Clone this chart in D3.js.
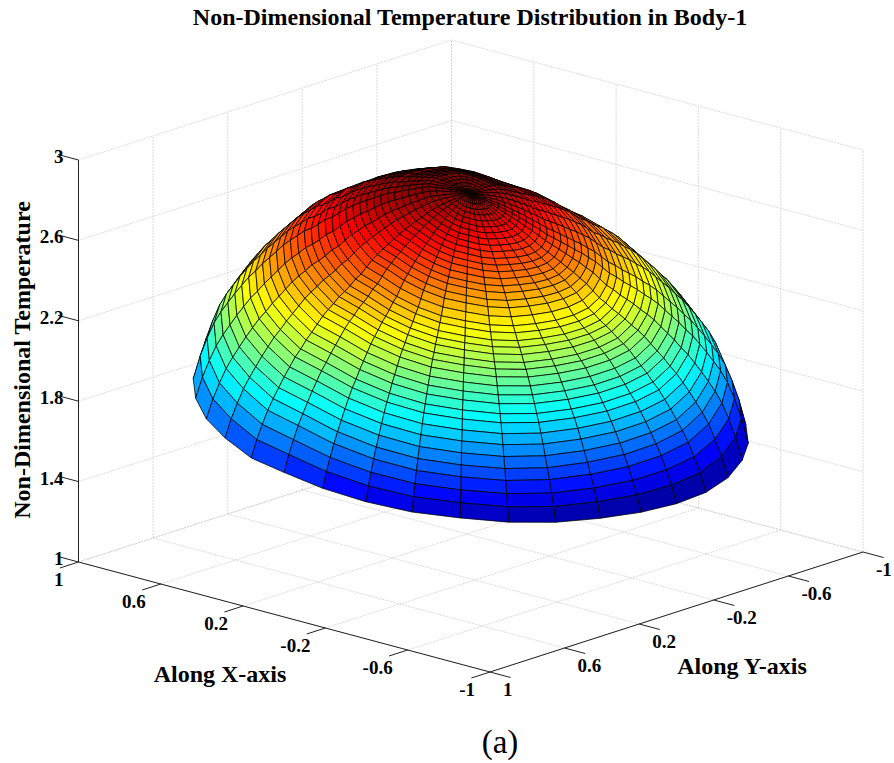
<!DOCTYPE html>
<html>
<head>
<meta charset="utf-8">
<script src="https://cdnjs.cloudflare.com/ajax/libs/d3/7.8.5/d3.min.js"></script>
<style>
    html, body { margin: 0; padding: 0; background: #fff; }
    svg { display: block; }
    text { font-family: "Liberation Serif", serif; fill: #000; }
    .tick { font-size: 19px; font-weight: bold; }
    .axisLabel { font-size: 24px; font-weight: bold; }
</style>
</head>
<body>
<script>
var title = "Non-Dimensional Temperature Distribution in Body-1";
var xLabel = "Along X-axis";
var yLabel = "Along Y-axis";
var zLabel = "Non-Dimensional Temperature";
var caption = "(a)";

var xyTicks = [1, 0.6, 0.2, -0.2, -0.6, -1];
var zTicks = [1, 1.4, 1.8, 2.2, 2.6, 3];

// mesh angles in degrees, one per meridian
var meridians = [0, 10, 20, 30, 40, 50, 60, 70, 80, 90, 100, 110, 120, 130, 140, 150, 160, 170,
    180, 190, 200, 210, 220, 230, 240, 250, 260, 270, 280, 290, 300, 310, 320, 330, 340, 350];
// ring radii, centre to rim
var ringRadius = [0, 0.025, 0.05, 0.075, 0.1, 0.125, 0.15, 0.175, 0.2, 0.225, 0.25, 0.275, 0.3, 0.325,
    0.35, 0.375, 0.4, 0.425, 0.45, 0.475, 0.5, 0.525, 0.55, 0.575, 0.6, 0.625, 0.65, 0.675, 0.7, 0.725,
    0.75, 0.775, 0.8, 0.825, 0.85, 0.875, 0.9, 0.925, 0.95, 0.975, 1];
// temperature at the pole and how far each ring falls below it
var poleTemp = 2.81;
var ringDrop = [0, 0.006, 0.0135, 0.021, 0.028, 0.0376, 0.0475, 0.06, 0.074, 0.089, 0.104, 0.121, 0.138, 0.158,
    0.18, 0.203, 0.224, 0.25, 0.274, 0.306, 0.338, 0.36, 0.39, 0.414, 0.437, 0.467, 0.492, 0.521, 0.556, 0.591,
    0.625, 0.665, 0.7, 0.744, 0.789, 0.838, 0.888, 0.937, 0.992, 1.046, 1.111];
// how much each ring leans, and the share of the lean each meridian gets
var ringLean = [0, 0.015, 0.03, 0.045, 0.06, 0.075, 0.09, 0.1, 0.11, 0.12, 0.13, 0.14, 0.15, 0.155,
    0.16, 0.165, 0.17, 0.175, 0.18, 0.185, 0.19, 0.195, 0.195, 0.195, 0.2, 0.2, 0.2, 0.2, 0.2, 0.2,
    0.2, 0.2, 0.2, 0.2, 0.2, 0.2, 0.2, 0.2, 0.2, 0.2, 0.2];
var meridianShare = [1, 1, 0.95, 0.9, 0.85, 0.72, 0.55, 0.4, 0.2, 0.1, -0.08, -0.25, -0.4, -0.5, -0.62, -0.7, -0.735, -0.775,
    -0.8, -0.8, -0.75, -0.65, -0.575, -0.47, -0.3, -0.1, 0.1, 0.25, 0.4, 0.5, 0.65, 0.8, 0.9, 1, 1, 1];
// the dome is fuller on its back and sides than along the front
var ringBulge = [0, 0, 0, 0, 0, 0, 0, 0, 0, 0, 0, 0, 0.006, 0.012,
    0.02, 0.028, 0.036, 0.044, 0.052, 0.06, 0.068, 0.076, 0.084, 0.09, 0.098, 0.105, 0.11, 0.115, 0.12, 0.125,
    0.13, 0.135, 0.14, 0.145, 0.15, 0.155, 0.16, 0.15, 0.12, 0.07, 0];
var meridianBulge = [1, 1, 0.9, 0.8, 0.7, 0.55, 0.45, 0.38, 0.3, 0.25, 0.15, 0.07, 0.02, 0, 0.02, 0.06, 0.12, 0.2,
    0.3, 0.4, 0.55, 0.7, 0.85, 0.85, 0.95, 1, 1, 0.95, 0.9, 0.8, 0.65, 0.5, 0.55, 0.7, 0.9, 1];

var jetStops = ["#000080", "#0000ff", "#00ffff", "#ffff00", "#ff0000", "#800000"];
var jetDomain = [1.53, 1.6925, 2.0175, 2.3425, 2.6675, 2.83];

var width = 894, height = 763;

// box projection, one scale per data axis
var xToSx = d3.scaleLinear().domain([-1, 1]).range([205.75, -205.75]);
var xToSy = d3.scaleLinear().domain([-1, 1]).range([55, -55]);
var yToSx = d3.scaleLinear().domain([-1, 1]).range([186.5, -186.5]);
var yToSy = d3.scaleLinear().domain([-1, 1]).range([-60, 60]);
var zToSy = d3.scaleLinear().domain([1, 3]).range([0, -402]);
var originX = 470.75, originY = 557;

function project(x, y, z) {
    return [originX + xToSx(x) + yToSx(y), originY + xToSy(x) + yToSy(y) + zToSy(z)];
}

// larger is closer to the camera
function depth(p) {
    return -37486 * p[0] + 41356 * p[1] + 22602 * p[2];
}

var color = d3.scaleLinear().domain(jetDomain).range(jetStops).clamp(true);

var svg = d3.select("body").append("svg").attr("width", width).attr("height", height);

function seg(g, a, b) {
    var p = project(a[0], a[1], a[2]);
    var q = project(b[0], b[1], b[2]);
    return g.append("line").attr("x1", p[0]).attr("y1", p[1]).attr("x2", q[0]).attr("y2", q[1]);
}

// grid on the floor and the two back walls
var grid = svg.append("g")
    .attr("fill", "none")
    .attr("stroke", "#d2d2d2")
    .attr("stroke-width", 0.8)
    .attr("stroke-dasharray", "2,1");
xyTicks.forEach(function (t) {
    seg(grid, [t, 1, 1], [t, -1, 1]);
    seg(grid, [1, t, 1], [-1, t, 1]);
    seg(grid, [1, t, 1], [1, t, 3]);
    seg(grid, [t, -1, 1], [t, -1, 3]);
});
zTicks.forEach(function (z) {
    seg(grid, [1, 1, z], [1, -1, z]);
    seg(grid, [1, -1, z], [-1, -1, z]);
});

// surface
function temp(i, j) {
    return poleTemp - ringDrop[i] + ringLean[i] * meridianShare[j] + ringBulge[i] * meridianBulge[j];
}

function vertex(i, j) {
    var a = meridians[j] * Math.PI / 180;
    return [ringRadius[i] * Math.cos(a), ringRadius[i] * Math.sin(a), temp(i, j)];
}

var faces = [];
for (var i = 0; i < ringRadius.length - 1; i++) {
    for (var j = 0; j < meridians.length; j++) {
        var k = (j + 1) % meridians.length;
        var c = [vertex(i, j), vertex(i + 1, j), vertex(i + 1, k), vertex(i, k)];
        var zMean = d3.mean(c, function (d) { return d[2]; });
        var mid = [d3.mean(c, function (d) { return d[0]; }), d3.mean(c, function (d) { return d[1]; }), zMean];
        faces.push({ corners: c, z: zMean, depth: depth(mid) });
    }
}
faces.sort(function (a, b) { return a.depth - b.depth; });

var line = d3.line()
    .x(function (d) { return project(d[0], d[1], d[2])[0]; })
    .y(function (d) { return project(d[0], d[1], d[2])[1]; })
    .curve(d3.curveLinearClosed);

svg.append("g").selectAll("path")
    .data(faces)
    .enter().append("path")
    .attr("d", function (d) { return line(d.corners); })
    .attr("fill", function (d) { return color(d.z); })
    .attr("stroke", "#000")
    .attr("stroke-opacity", 0.85)
    .attr("stroke-width", 0.9)
    .attr("stroke-linejoin", "round");

// axes and ticks
var axes = svg.append("g").attr("stroke", "#222").attr("stroke-width", 1).attr("fill", "none");
seg(axes, [1, 1, 1], [1, 1, 3]);
seg(axes, [1, 1, 1], [-1, 1, 1]);
seg(axes, [-1, 1, 1], [-1, -1, 1]);
zTicks.forEach(function (z) {
    seg(axes, [1, 1, z], [1.1, 1, z]);
});
xyTicks.forEach(function (t) {
    seg(axes, [t, 1, 1], [t, 1.1, 1]);
    seg(axes, [-1, t, 1], [-1.1, t, 1]);
});

var labels = svg.append("g");
zTicks.forEach(function (z) {
    labels.append("text").attr("class", "tick").attr("text-anchor", "end")
        .attr("x", project(1, 1, z)[0] - 15).attr("y", project(1, 1, z)[1] + 3)
        .text(z);
});
xyTicks.forEach(function (t) {
    var p = project(t, 1, 1);
    labels.append("text").attr("class", "tick").attr("text-anchor", "end")
        .attr("x", p[0] - 15).attr("y", p[1] + 24)
        .text(t);
    var q = project(-1, t, 1);
    labels.append("text").attr("class", "tick").attr("text-anchor", "start")
        .attr("x", q[0] + 13).attr("y", q[1] + 24)
        .text(t);
});

svg.append("text")
    .attr("x", 470).attr("y", 25)
    .attr("text-anchor", "middle")
    .style("font-size", "24px").style("font-weight", "bold")
    .text(title);
svg.append("text").attr("class", "axisLabel")
    .attr("x", 220).attr("y", 682).attr("text-anchor", "middle").text(xLabel);
svg.append("text").attr("class", "axisLabel")
    .attr("x", 742).attr("y", 674).attr("text-anchor", "middle").text(yLabel);
svg.append("text").attr("class", "axisLabel")
    .attr("transform", "translate(30,360) rotate(-90)")
    .attr("text-anchor", "middle").text(zLabel);
svg.append("text")
    .attr("x", 500).attr("y", 753).attr("text-anchor", "middle")
    .style("font-size", "33px")
    .text(caption);
</script>
</body>
</html>
